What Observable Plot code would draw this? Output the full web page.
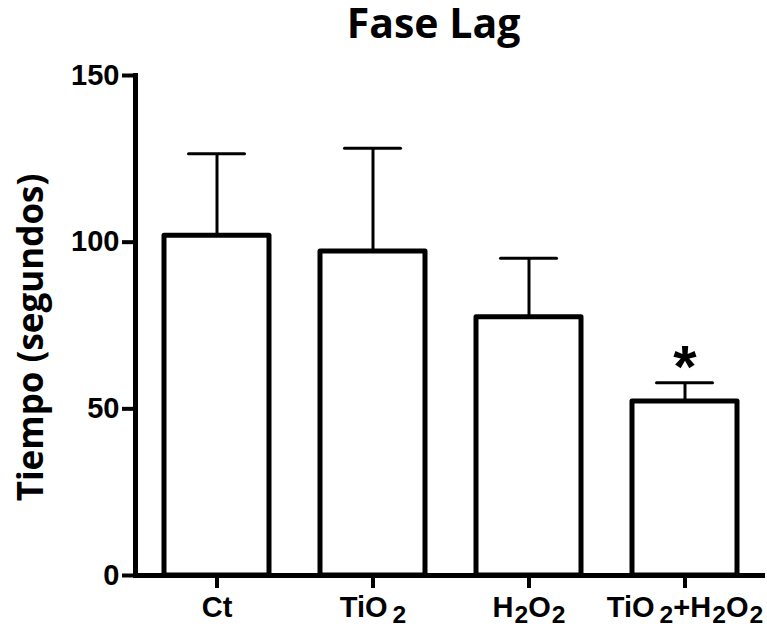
<!DOCTYPE html>
<html>
<head>
<meta charset="utf-8">
<script src="https://cdn.jsdelivr.net/npm/d3@7"></script>
<script src="https://cdn.jsdelivr.net/npm/@observablehq/plot@0.6"></script>
<style>
  html, body { margin: 0; padding: 0; background: #fff; }
  #chart svg { display: block; overflow: visible; }
</style>
</head>
<body>
<div id="chart"></div>
<script>
const title = "Fase Lag";
const yLabel = "Tiempo (segundos)";
const categories = ["Ct", "TiO2", "H2O2", "TiO2+H2O2"];
const means = [101.9, 97.2, 77.5, 52.2];
const errors = [24.6, 31.0, 17.7, 5.6];
const marks = ["", "", "", "*"];
const yTicks = [0, 50, 100, 150];

const data = categories.map((c, i) => ({cat: c, mean: means[i], err: errors[i], top: means[i] + errors[i], sig: marks[i]}));

const chart = Plot.plot({
  width: 767,
  height: 627,
  marginLeft: 135,
  marginRight: 2,
  marginTop: 75,
  marginBottom: 52,
  style: {fontFamily: "'Liberation Sans', Arial, sans-serif", color: "black", background: "white", overflow: "visible"},
  x: {domain: categories, paddingInner: 0.33, paddingOuter: 0.175},
  y: {domain: [0, 150]},
  marks: [
    Plot.ruleX(data, {x: "cat", y1: "mean", y2: "top", stroke: "black", strokeWidth: 3}),
    Plot.tickY(data, {x: "cat", y: "top", stroke: "black", strokeWidth: 3, insetLeft: 24.5, insetRight: 24.5, strokeLinecap: "round"}),
    Plot.barY(data, {x: "cat", y: "mean", fill: "white", stroke: "black", strokeWidth: 5, strokeLinejoin: "round"}),
    Plot.text(data, {x: "cat", y: "top", text: "sig", fontSize: 60, fontWeight: "bold", lineAnchor: "bottom", dy: 4}),
    Plot.axisY({ticks: yTicks, tickSize: 13, tickPadding: 3, strokeWidth: 4, fontSize: 29, fontWeight: "bold", label: null}),
    Plot.axisX({tickSize: 13, tickPadding: 8, strokeWidth: 4, fontSize: 29, fontWeight: "bold", label: null}),
    Plot.frame({anchor: "left", stroke: "black", strokeWidth: 5}),
    Plot.ruleY([0], {stroke: "black", strokeWidth: 5}),
    Plot.text([title], {frameAnchor: "top", lineAnchor: "bottom", dy: -38, dx: -17, fontSize: 41, fontWeight: "bold", fontFamily: "'Open Sans', sans-serif"}),
    Plot.text([yLabel], {frameAnchor: "left", rotate: -90, lineAnchor: "bottom", textAnchor: "middle", dx: -93, dy: 12, fontSize: 35, fontWeight: "bold", fontFamily: "'Open Sans', sans-serif"})
  ]
});

// render chemical subscripts as real text with tspans
d3.select(chart).selectAll('g[aria-label="x-axis tick label"] text').each(function() {
  const t = d3.select(this);
  const s = t.text();
  t.text(null);
  const parts = s.match(/[A-Za-z+]+|\d+/g);
  let lowered = false;
  let prev = "";
  parts.forEach(p => {
    if (/^\d+$/.test(p)) {
      t.append("tspan").attr("font-size", "0.85em").attr("dy", 6).attr("dx", /TiO$/.test(prev) ? 5 : 1).text(p);
      lowered = true;
    } else {
      const sp = t.append("tspan").text(p);
      if (lowered) { sp.attr("dy", -6); lowered = false; }
    }
    prev = p;
  });
});

document.getElementById("chart").appendChild(chart);
</script>
</body>
</html>
